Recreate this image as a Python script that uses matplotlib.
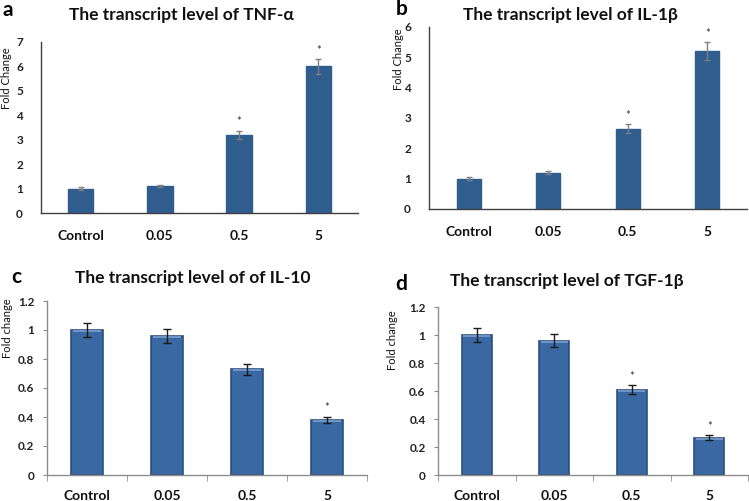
import matplotlib
matplotlib.use("Agg")
import matplotlib.pyplot as plt
import numpy as np

categories = ["Control", "0.05", "0.5", "5"]

tnf_vals = [1.0, 1.1, 3.2, 6.0]
tnf_err = [0.05, 0.05, 0.16, 0.3]
tnf_sig = [False, False, True, True]

il1b_vals = [1.0, 1.2, 2.65, 5.2]
il1b_err = [0.05, 0.05, 0.14, 0.29]
il1b_sig = [False, False, True, True]

il10_vals = [1.0, 0.96, 0.73, 0.38]
il10_err = [0.05, 0.047, 0.037, 0.022]
il10_sig = [False, False, False, True]

tgf_vals = [1.0, 0.96, 0.61, 0.265]
tgf_err = [0.052, 0.048, 0.03, 0.018]
tgf_sig = [False, False, True, True]

W, H = 749, 501
fig = plt.figure(figsize=(W / 100, H / 100), dpi=100)
plt.rcParams['font.family'] = ['Lato', 'DejaVu Sans']

def ax_at(l, r, t, b):
    return fig.add_axes([l / W, 1 - b / H, (r - l) / W, (b - t) / H])

panels = [
    dict(box=(41, 358, 42, 213), vals=tnf_vals, err=tnf_err, sig=tnf_sig, ylim=(0, 7),
         yt=np.arange(0, 8, 1), ytl=[str(i) for i in range(8)], bw=0.32, style='flat',
         title="The transcript level of TNF-\u03b1", tpos=(181, 15), ylabel="Fold Change",
         ylpos=(7, 78), letter="a", lpos=(8, 10)),
    dict(box=(429, 747, 27, 209), vals=il1b_vals, err=il1b_err, sig=il1b_sig, ylim=(0, 6),
         yt=np.arange(0, 7, 1), ytl=[str(i) for i in range(7)], bw=0.30, style='flat',
         title="The transcript level of IL-1\u03b2", tpos=(570, 15), ylabel="Fold Change",
         ylpos=(398, 59), letter="b", lpos=(402, 9)),
    dict(box=(47, 367, 301, 475), vals=il10_vals, err=il10_err, sig=il10_sig, ylim=(0, 1.2),
         yt=[0, 0.2, 0.4, 0.6, 0.8, 1.0, 1.2], ytl=["0", "0.2", "0.4", "0.6", "0.8", "1", "1.2"],
         bw=0.40, style='grad',
         title="The transcript level of of IL-10", tpos=(193, 278), ylabel="Fold change",
         ylpos=(8, 328), letter="c", lpos=(16, 277)),
    dict(box=(438, 748, 307, 475), vals=tgf_vals, err=tgf_err, sig=tgf_sig, ylim=(0, 1.2),
         yt=[0, 0.2, 0.4, 0.6, 0.8, 1.0, 1.2], ytl=["0", "0.2", "0.4", "0.6", "0.8", "1", "1.2"],
         bw=0.39, style='grad',
         title="The transcript level of TGF-1\u03b2", tpos=(567, 281), ylabel="Fold change",
         ylpos=(393, 340), letter="d", lpos=(401, 284)),
]

x = np.arange(len(categories))

for p in panels:
    ax = ax_at(*p['box'])
    if p['style'] == 'flat':
        ax.bar(x, p['vals'], width=p['bw'], color='#2f5d8e', edgecolor='#2f5d8e', zorder=2)
        ax.errorbar(x, p['vals'], yerr=p['err'], fmt='none', ecolor='#808080',
                    elinewidth=1.0, capsize=2.5, capthick=1.0, zorder=3)
        spine_c = '#404040'
    else:
        ax.bar(x, p['vals'], width=p['bw'], color='#3a68a2', edgecolor='#2b4f7f',
               linewidth=1.2, zorder=2)
        # lighter top band
        ax.bar(x, [0.012] * len(p['vals']), bottom=[v - 0.014 for v in p['vals']],
               width=p['bw'] * 0.9, color='#6f95c6', edgecolor='none', zorder=2.5)
        ax.errorbar(x, p['vals'], yerr=p['err'], fmt='none', ecolor='#1a1a1a',
                    elinewidth=1.0, capsize=3, capthick=1.0, zorder=3)
        spine_c = '#8c8c8c'
    for xi, v, e, s in zip(x, p['vals'], p['err'], p['sig']):
        if s:
            ax.annotate("*", (xi, v + e), xytext=(0, 2.5), textcoords='offset points',
                        ha='center', va='bottom', fontsize=8, color='#333333')
    ax.set_xlim(-0.5, 3.5)
    ax.set_ylim(*p['ylim'])
    ax.set_yticks(p['yt'])
    ax.set_yticklabels(p['ytl'], fontsize=8.5, fontweight='bold', color='#222222')
    ax.set_xticks(x)
    ax.set_xticklabels(categories, fontsize=10, fontweight='bold', color='#111111')
    for sp in ['top', 'right']:
        ax.spines[sp].set_visible(False)
    for sp in ['left', 'bottom']:
        ax.spines[sp].set_color(spine_c)
        ax.spines[sp].set_linewidth(1.0)
    if p['style'] == 'flat':
        ax.tick_params(axis='both', length=0)
        ax.tick_params(axis='y', pad=13)
        ax.tick_params(axis='x', pad=12)
    else:
        ax.tick_params(axis='y', length=3, color=spine_c, pad=6)
        ax.tick_params(axis='x', length=0, pad=11)
        ax.set_xticks([-0.5, 0.5, 1.5, 2.5, 3.5], minor=True)
        ax.tick_params(axis='x', which='minor', length=4, color=spine_c, direction='out')
    fig.text(p['tpos'][0] / W, 1 - p['tpos'][1] / H, p['title'], ha='center', va='center',
             fontsize=12.5, fontweight='bold', color='#111111')
    fig.text(p['ylpos'][0] / W, 1 - p['ylpos'][1] / H, p['ylabel'], ha='center', va='center',
             rotation=90, fontsize=8, color='#111111')
    fig.text(p['lpos'][0] / W, 1 - p['lpos'][1] / H, p['letter'], ha='center', va='center',
             fontsize=15, fontweight='bold', color='#000000')

fig.savefig("out.png", dpi=100)
